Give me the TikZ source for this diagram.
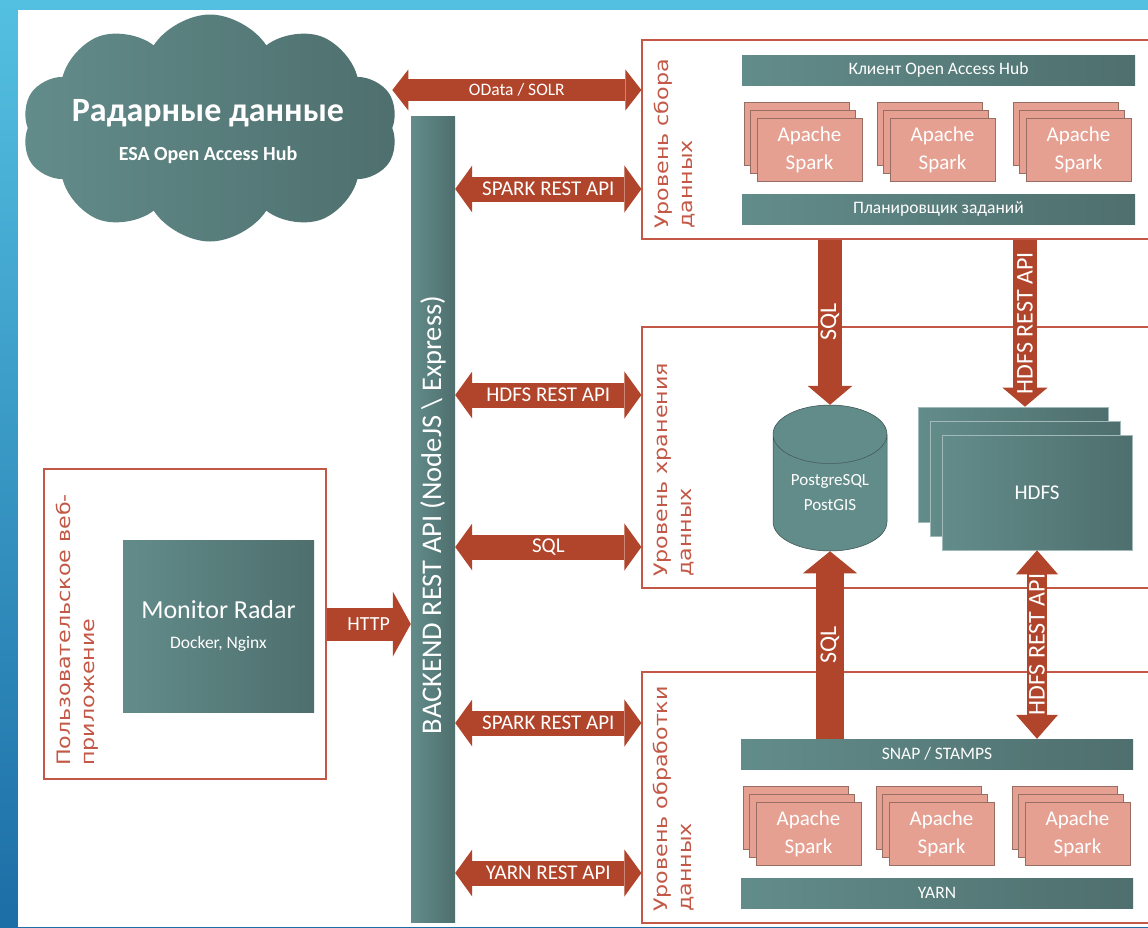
\documentclass[tikz,border=0pt]{standalone}
\usepackage{fontspec}
\setmainfont{Carlito}
\newfontfamily\lblfont[FakeStretch=1.2]{DejaVu Sans}
\usetikzlibrary{shapes.geometric, shapes.symbols, arrows.meta}

\definecolor{tealA}{RGB}{98,140,138}
\definecolor{tealB}{RGB}{78,111,110}
\definecolor{sparkfill}{RGB}{229,160,146}
\definecolor{sparkline}{RGB}{150,110,100}
\definecolor{arrowred}{RGB}{176,69,43}
\definecolor{layerred}{RGB}{195,88,70}
\definecolor{bgtop}{RGB}{84,192,225}
\definecolor{bgbot}{RGB}{28,110,166}

\tikzstyle{layer} = [rectangle, draw=layerred, line width=1.2pt, fill=white, inner sep=0pt]
\tikzstyle{layerlabel} = [rotate=90, anchor=north west, align=left, inner sep=0pt, text=layerred, font=\lblfont\fontsize{18.5}{24}\selectfont]
\tikzstyle{tealbox} = [rectangle, inner sep=0pt, left color=tealA, right color=tealB, text=white, align=center]
\tikzstyle{bar} = [tealbox, minimum width=393pt, minimum height=30pt, font=\fontsize{17.5}{20}\selectfont]
\tikzstyle{sparkcard} = [rectangle, minimum width=105pt, minimum height=63pt, inner sep=0pt, draw=sparkline, line width=0.8pt, fill=sparkfill, text=white, align=center, font=\fontsize{21}{28}\selectfont]
\tikzstyle{hdfscard} = [tealbox, draw=tealA!60!white, line width=0.6pt, minimum width=190pt, minimum height=115pt, font=\fontsize{21}{24}\selectfont]
\tikzstyle{arrowlabel} = [text=white, inner sep=0pt, font=\fontsize{21}{24}\selectfont]
\tikzstyle{vlabel} = [arrowlabel, rotate=90, font=\fontsize{24}{26}\selectfont]
\tikzstyle{biarrow} = [draw=arrowred, line width=25pt, <->, >={Triangle[length=17pt 0 0, width=47pt 0 0, line width=0pt]}]
\tikzstyle{odarrow} = [draw=arrowred, line width=22pt, <->, >={Triangle[length=16pt 0 0, width=41pt 0 0, line width=0pt]}]
\tikzstyle{httparrow} = [draw=arrowred, line width=33pt, ->, >={Triangle[length=18pt 0 0, width=65pt 0 0, line width=0pt]}]
\tikzstyle{downarrow} = [draw=arrowred, line width=24pt, ->, >={Triangle[length=19pt 0 0, width=45pt 0 0, line width=0pt]}]
\tikzstyle{uparrow} = [draw=arrowred, line width=28pt, ->, >={Triangle[length=22pt 0 0, width=54pt 0 0, line width=0pt]}]
\tikzstyle{vbiarrow} = [draw=arrowred, line width=20pt, <->, >={Triangle[length=24pt 0 0, width=42pt 0 0, line width=0pt]}]

\begin{document}
\begin{tikzpicture}[x=1pt, y=-1pt]
\useasboundingbox (0,0) rectangle (1148,927);

% Frame
\fill [top color=bgtop, bottom color=bgbot] (0,0) rectangle (1148,927);
\fill [white] (18,10) rectangle (1148,927);

% Layers
\node (collect) [layer, minimum width=510pt, minimum height=199pt] at (897,139.5) {};
\node (store) [layer, minimum width=510pt, minimum height=261pt] at (897,457.5) {};
\node (process) [layer, minimum width=510pt, minimum height=251pt] at (897,797.5) {};
\node (user) [layer, minimum width=282pt, minimum height=310pt] at (185,624) {};

\node (collectlabel) [layerlabel] at (654,229) {Уровень сбора\\данных};
\node (storelabel) [layerlabel] at (654,577) {Уровень хранения\\данных};
\node (processlabel) [layerlabel] at (653,912) {Уровень обработки\\данных};
\node (userlabel) [layerlabel] at (56,766) {Пользовательское веб-\\приложение};

% Radar data source
\node (cloud) [cloud, cloud puffs=10, cloud puff arc=115, aspect=1.59, left color=tealA, right color=tealB, minimum width=376pt, minimum height=227pt, inner sep=0pt] at (210,128) {};
\node (cloudtitle) [text=white, inner sep=0pt, font=\fontsize{34}{36}\selectfont\bfseries] at (208,113) {Радарные данные};
\node (cloudsub) [text=white, inner sep=0pt, font=\fontsize{20}{22}\selectfont\bfseries] at (208,155) {ESA Open Access Hub};

% Backend
\node (backend) [tealbox, minimum width=44pt, minimum height=806pt] at (433,519) {};
\node (backendlabel) [rotate=90, text=white, inner sep=0pt, font=\fontsize{28.5}{30}\selectfont] at (433,515) {BACKEND REST API (NodeJS \textbackslash{} Express)};

% Web application
\node (monitor) [tealbox, minimum width=191pt, minimum height=172pt, font=\fontsize{26}{30}\selectfont] at (218.5,626)
  {Monitor Radar\\{\fontsize{17.5}{22}\selectfont Docker, Nginx}};

% Collection layer
\node (client) [bar] at (938.5,70) {Клиент Open Access Hub};
\node (cA1) [sparkcard] at (796.5,133.5) {};
\node (cA2) [sparkcard] at (803,141.5) {};
\node (cA3) [sparkcard] at (809.5,149.5) {Apache\\Spark};
\node (cB1) [sparkcard] at (929.5,133.5) {};
\node (cB2) [sparkcard] at (936,141.5) {};
\node (cB3) [sparkcard] at (942.5,149.5) {Apache\\Spark};
\node (cC1) [sparkcard] at (1065.5,133.5) {};
\node (cC2) [sparkcard] at (1072,141.5) {};
\node (cC3) [sparkcard] at (1078.5,149.5) {Apache\\Spark};
\node (sched) [bar] at (938.5,209) {Планировщик заданий};

% Storage layer
\node (db) [cylinder, shape border rotate=90, shape aspect=0.75, minimum width=114pt, minimum height=146pt, inner sep=0pt, anchor=shape center, draw=tealB!70!black, line width=0.5pt, cylinder uses custom fill, cylinder body fill=tealA, cylinder end fill=tealA, text=white, align=center, font=\fontsize{17}{25}\selectfont] at (830,478) {PostgreSQL\\PostGIS};
\node (hdfsB) [hdfscard] at (1013,464.5) {};
\node (hdfsM) [hdfscard] at (1025,478.5) {};
\node (hdfsF) [hdfscard] at (1037,492.5) {HDFS};

% Processing layer
\node (snap) [bar, minimum width=392pt] at (937,754) {SNAP / STAMPS};
\node (pA1) [sparkcard] at (795.5,817.5) {};
\node (pA2) [sparkcard] at (802,825.5) {};
\node (pA3) [sparkcard] at (808.5,833.5) {Apache\\Spark};
\node (pB1) [sparkcard] at (928.5,817.5) {};
\node (pB2) [sparkcard] at (935,825.5) {};
\node (pB3) [sparkcard] at (941.5,833.5) {Apache\\Spark};
\node (pC1) [sparkcard] at (1064.5,817.5) {};
\node (pC2) [sparkcard] at (1071,825.5) {};
\node (pC3) [sparkcard] at (1077.5,833.5) {Apache\\Spark};
\node (yarn) [bar, minimum width=392pt] at (937,893) {YARN};

% Arrow levels
\coordinate (yOdata) at (0,90);
\coordinate (ySparkTop) at (0,189);
\coordinate (yHdfs) at (0,395);
\coordinate (ySql) at (0,547);
\coordinate (ySparkLow) at (0,723);
\coordinate (yYarn) at (0,873);

% Arrows
\draw [odarrow] (cloud.east |- yOdata) -- node (lblOdata) [arrowlabel, font=\fontsize{17.5}{20}\selectfont] {OData / SOLR} (collect.west |- yOdata);
\draw [biarrow] (backend.east |- ySparkTop) -- node (lblSparkTop) [arrowlabel] {SPARK REST API} (collect.west |- ySparkTop);
\draw [biarrow] (backend.east |- yHdfs) -- node (lblHdfs) [arrowlabel] {HDFS REST API} (store.west |- yHdfs);
\draw [biarrow] (backend.east |- ySql) -- node (lblSql) [arrowlabel] {SQL} (store.west |- ySql);
\draw [biarrow] (backend.east |- ySparkLow) -- node (lblSparkLow) [arrowlabel] {SPARK REST API} (process.west |- ySparkLow);
\draw [biarrow] (backend.east |- yYarn) -- node (lblYarn) [arrowlabel] {YARN REST API} (process.west |- yYarn);
\draw [httparrow] (user.east) -- node (lblHttp) [arrowlabel, font=\fontsize{20}{22}\selectfont] {HTTP} (backend.west |- user.east);

\draw [downarrow] (collect.south -| db.north) -- node (lblSqlTop) [vlabel] {SQL} (db.north);
\draw [downarrow] (collect.south -| hdfsM.north) -- node (lblHdfsTop) [vlabel] {HDFS REST API} (hdfsB.north -| hdfsM.north);
\draw [uparrow] (snap.north -| db.south) -- node (lblSqlLow) [vlabel] {SQL} (db.south);
\draw [vbiarrow] (snap.north -| hdfsF.south) -- node (lblHdfsLow) [vlabel] {HDFS REST API} (hdfsF.south);

\end{tikzpicture}
\end{document}
